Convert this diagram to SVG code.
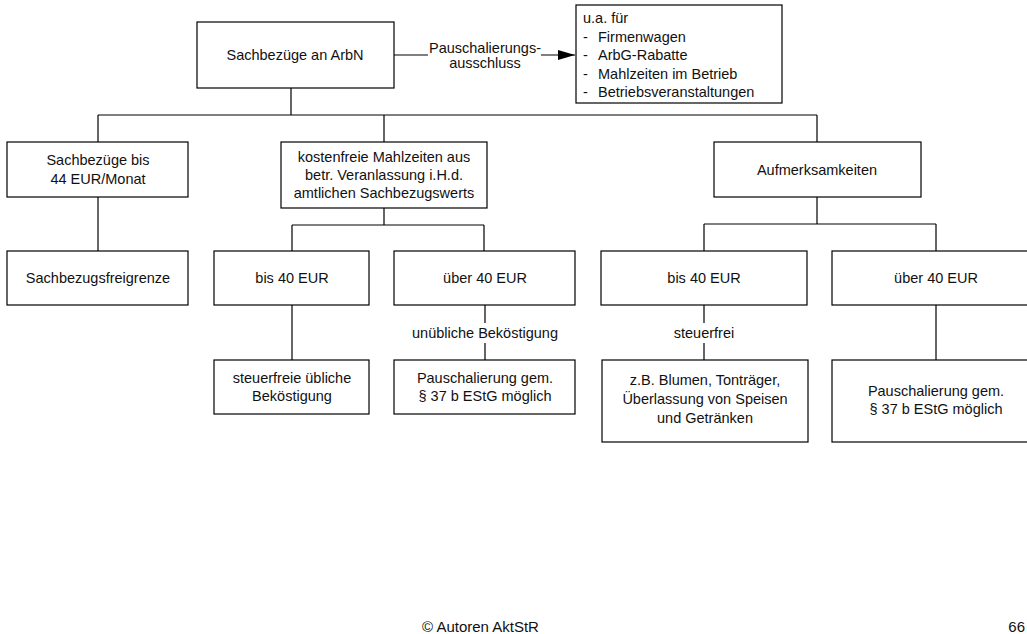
<svg xmlns="http://www.w3.org/2000/svg" width="1027" height="634" viewBox="0 0 1027 634">
<style>
.b{fill:#fff;stroke:#000;stroke-width:1.2}
.l{fill:none;stroke:#000;stroke-width:1.2}
text{font-family:"Liberation Sans",Arial,sans-serif;font-size:14.5px;fill:#111}
.c{text-anchor:middle}
</style>
<defs>
<marker id="ah" viewBox="0 0 10 10" refX="10" refY="5" markerWidth="17" markerHeight="10" markerUnits="userSpaceOnUse" orient="auto" preserveAspectRatio="none">
<path d="M0,0 L10,5 L0,10 z" fill="#000"/>
</marker>
</defs>
<rect width="1027" height="634" fill="#fff"/>
<g id="connectors">
<path class="l" d="M291,88 V115 M98,115 H817 M98,115 V142 M384,115 V142 M817,115 V142"/>
<path class="l" d="M98,197 V251"/>
<path class="l" d="M384,208 V225 M292,225 H484 M292,225 V251 M484,225 V251"/>
<path class="l" d="M817,197 V224 M704,224 H936 M704,224 V251 M936,224 V251"/>
<path class="l" d="M292,305 V360"/>
<path class="l" d="M485,305 V323 M485,343 V360"/>
<path class="l" d="M704,305 V323 M704,343 V360"/>
<path class="l" d="M936,305 V360"/>
<path class="l" d="M394,55 H428"/>
<path class="l" d="M541,55 H575" marker-end="url(#ah)"/>
<text class="c" x="485" y="53">Pauschalierungs-</text>
<text class="c" x="485" y="68">ausschluss</text>
<text class="c" x="485" y="338">unübliche Beköstigung</text>
<text class="c" x="704" y="338">steuerfrei</text>
</g>
<g id="root"><rect class="b" x="197" y="22" width="197" height="66"/><text class="c" x="295" y="60">Sachbezüge an ArbN</text></g>
<g id="ausschluss"><rect class="b" x="576" y="5" width="206" height="98"/>
<text x="583" y="23">u.a. für</text>
<text x="583" y="41.5">-</text><text x="598" y="41.5">Firmenwagen</text>
<text x="583" y="60">-</text><text x="598" y="60">ArbG-Rabatte</text>
<text x="583" y="78.5">-</text><text x="598" y="78.5">Mahlzeiten im Betrieb</text>
<text x="583" y="97">-</text><text x="598" y="97">Betriebsveranstaltungen</text>
</g>
<g id="n44"><rect class="b" x="7" y="142" width="181" height="55"/><text class="c" x="98" y="165">Sachbezüge bis</text><text class="c" x="98" y="184">44 EUR/Monat</text></g>
<g id="freigrenze"><rect class="b" x="7" y="251" width="181" height="54"/><text class="c" x="98" y="283">Sachbezugsfreigrenze</text></g>
<g id="mahlzeiten"><rect class="b" x="281" y="142" width="206" height="66"/><text class="c" x="384" y="162">kostenfreie Mahlzeiten aus</text><text class="c" x="384" y="180">betr. Veranlassung i.H.d.</text><text class="c" x="384" y="198">amtlichen Sachbezugswerts</text></g>
<g id="m_bis40"><rect class="b" x="214" y="251" width="155" height="54"/><text class="c" x="292" y="283">bis 40 EUR</text></g>
<g id="m_ueber40"><rect class="b" x="394" y="251" width="181" height="54"/><text class="c" x="485" y="283">über 40 EUR</text></g>
<g id="m_steuerfrei"><rect class="b" x="214" y="360" width="155" height="54"/><text class="c" x="292" y="383">steuerfreie übliche</text><text class="c" x="292" y="401">Beköstigung</text></g>
<g id="m_pausch"><rect class="b" x="394" y="360" width="181" height="54"/><text class="c" x="485" y="383">Pauschalierung gem.</text><text class="c" x="485" y="401">§ 37 b EStG möglich</text></g>
<g id="aufmerksamkeiten"><rect class="b" x="714" y="142" width="207" height="55"/><text class="c" x="817" y="175">Aufmerksamkeiten</text></g>
<g id="a_bis40"><rect class="b" x="601" y="251" width="206" height="54"/><text class="c" x="704" y="283">bis 40 EUR</text></g>
<g id="a_ueber40"><rect class="b" x="832" y="251" width="210" height="54"/><text class="c" x="936" y="283">über 40 EUR</text></g>
<g id="a_beispiele"><rect class="b" x="602" y="360" width="206" height="82"/><text class="c" x="705" y="385">z.B. Blumen, Tonträger,</text><text class="c" x="705" y="404">Überlassung von Speisen</text><text class="c" x="705" y="423">und Getränken</text></g>
<g id="a_pausch"><rect class="b" x="832" y="360" width="210" height="82"/><text class="c" x="936" y="396">Pauschalierung gem.</text><text class="c" x="936" y="414">§ 37 b EStG möglich</text></g>
<text x="422" y="632" style="font-size:15px">© Autoren AktStR</text>
<text x="1025" y="632" style="font-size:15px;text-anchor:end">66</text>
</svg>
